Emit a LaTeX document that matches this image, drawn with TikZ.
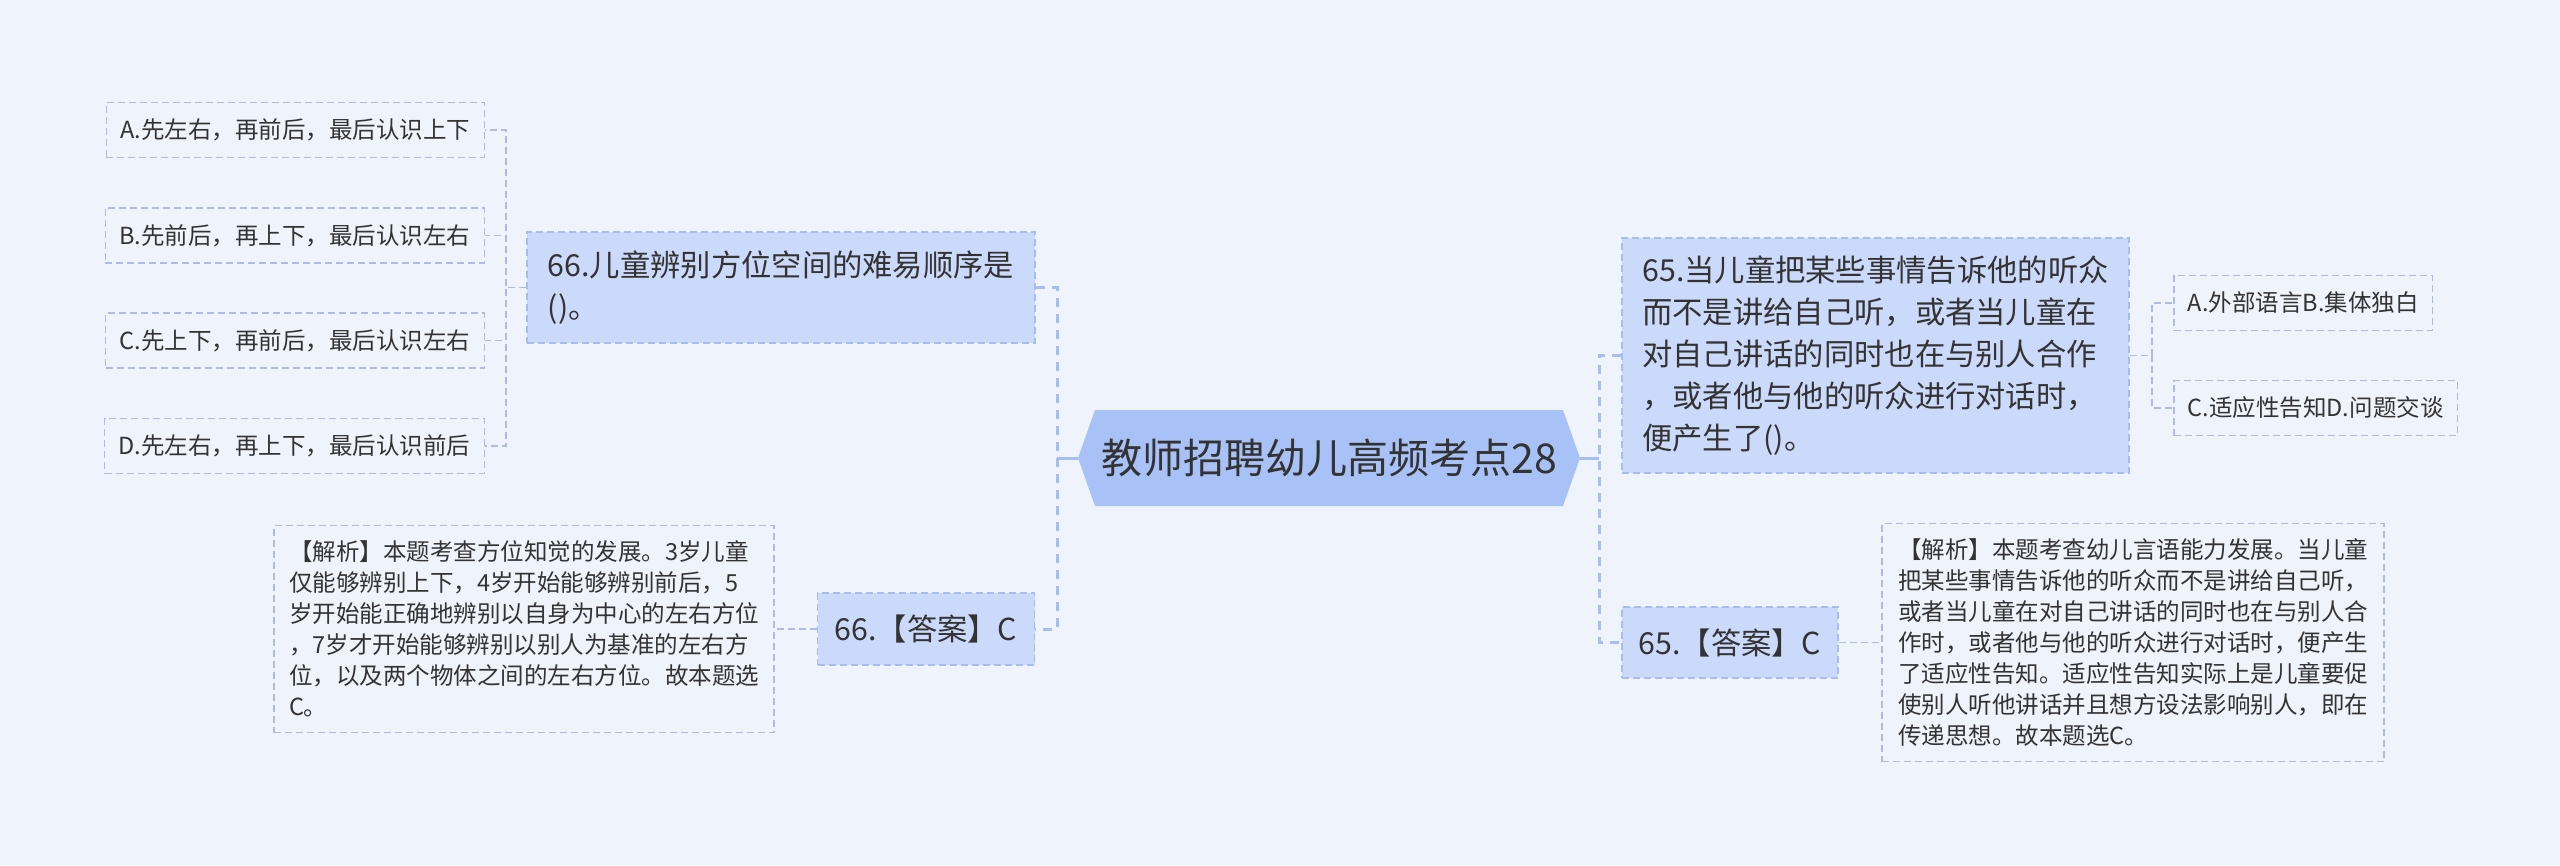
\documentclass[tikz,border=0pt]{standalone}
\usepackage{fontspec}
\newfontfamily\cjk{Noto Sans CJK SC}
\usepackage{tikz}
\usetikzlibrary{shapes.symbols}

\definecolor{bgcol}{HTML}{EFF3FB}
\definecolor{topicfill}{HTML}{A8C1F7}
\definecolor{qfill}{HTML}{CBDAFA}
\definecolor{qline}{HTML}{A6BDEF}
\definecolor{oline}{HTML}{ADBBE6}
\definecolor{buscol}{HTML}{A7BEF1}
\definecolor{textcol}{HTML}{333333}

\begin{document}
\begin{tikzpicture}[x=1pt,y=-1pt,
    topic/.style={shape=signal,signal to=west and east,signal pointer angle=141,
                  fill=topicfill,minimum width=502pt,minimum height=96pt,inner sep=0pt,
                  font=\cjk\fontsize{41}{48}\selectfont,text=textcol},
    question/.style={draw=qline,fill=qfill,line width=1.5pt,dash pattern=on 7pt off 4pt,
                  align=left,inner sep=0pt,font=\cjk\fontsize{30.3}{42}\selectfont,text=textcol},
    choice/.style={draw=oline,line width=1.5pt,dash pattern=on 7pt off 4pt,
                  inner xsep=14pt,minimum height=55pt,font=\cjk\fontsize{23.5}{31}\selectfont,text=textcol},
    note/.style={draw=oline,line width=1.5pt,dash pattern=on 7pt off 4pt,
                  align=left,inner sep=0pt,font=\cjk\fontsize{23.5}{31}\selectfont,text=textcol},
    stem/.style={draw=buscol,line width=3pt},
    trunk/.style={draw=buscol,line width=3pt,dash pattern=on 9pt off 7pt},
    twig/.style={draw=oline,line width=1.5pt,dash pattern=on 7pt off 4pt}]

  \fill[bgcol] (0,0) rectangle (2560,865);
  \useasboundingbox (0,0) rectangle (2560,865);

  \node[topic]    (title) at (1329,458)   {教师招聘幼儿高频考点28};

  \node[question,minimum width=508pt,minimum height=111pt] (q66) at (781,287.5)
      {66.儿童辨别方位空间的难易顺序是\\()。};
  \node[choice,anchor=east] (c66a) at (485,130)   {A.先左右，再前后，最后认识上下};
  \node[choice,anchor=east] (c66b) at (485,235.5) {B.先前后，再上下，最后认识左右};
  \node[choice,anchor=east] (c66c) at (485,340.5) {C.先上下，再前后，最后认识左右};
  \node[choice,anchor=east] (c66d) at (485,446)   {D.先左右，再上下，最后认识前后};
  \node[question,minimum width=217pt,minimum height=72pt] (a66) at (926,629) {66.【答案】C};
  \node[note,minimum width=500pt,minimum height=207pt] (n66) at (524,629)
      {【解析】本题考查方位知觉的发展。3岁儿童\\仅能够辨别上下，4岁开始能够辨别前后，5\\岁开始能正确地辨别以自身为中心的左右方位\\，7岁才开始能够辨别以别人为基准的左右方\\位，以及两个物体之间的左右方位。故本题选\\C。};

  \node[question,minimum width=507pt,minimum height=235pt] (q65) at (1875.5,355.5)
      {65.当儿童把某些事情告诉他的听众\\而不是讲给自己听，或者当儿童在\\对自己讲话的同时也在与别人合作\\，或者他与他的听众进行对话时，\\便产生了()。};
  \node[choice,anchor=west] (c65a) at (2173,303) {A.外部语言B.集体独白};
  \node[choice,anchor=west] (c65c) at (2173,408) {C.适应性告知D.问题交谈};
  \node[question,minimum width=216pt,minimum height=71pt] (a65) at (1730,642.5) {65.【答案】C};
  \node[note,minimum width=502pt,minimum height=238pt] (n65) at (2133,642.5)
      {【解析】本题考查幼儿言语能力发展。当儿童\\把某些事情告诉他的听众而不是讲给自己听，\\或者当儿童在对自己讲话的同时也在与别人合\\作时，或者他与他的听众进行对话时，便产生\\了适应性告知。适应性告知实际上是儿童要促\\使别人听他讲话并且想方设法影响别人，即在\\传递思想。故本题选C。};

  \coordinate (lbus) at (1057,458);
  \coordinate (rbus) at (1599,458);
  \coordinate (lopt) at (506,287.5);
  \coordinate (ropt) at (2152,355.5);

  \draw[stem]  (title.west) -- (lbus);
  \draw[stem]  (title.east) -- (rbus);
  \draw[trunk] (q66.east) -| (lbus) |- (a66.east);
  \draw[trunk] (q65.west) -| (rbus) |- (a65.west);
  \foreach \o in {a,b,c,d}
    \draw[twig] (q66.west) -- (lopt) |- (c66\o.east);
  \foreach \o in {a,c}
    \draw[twig] (q65.east) -- (ropt) |- (c65\o.west);
  \draw[twig] (a66.west) -- (n66.east);
  \draw[twig] (a65.east) -- (n65.west);
\end{tikzpicture}
\end{document}
